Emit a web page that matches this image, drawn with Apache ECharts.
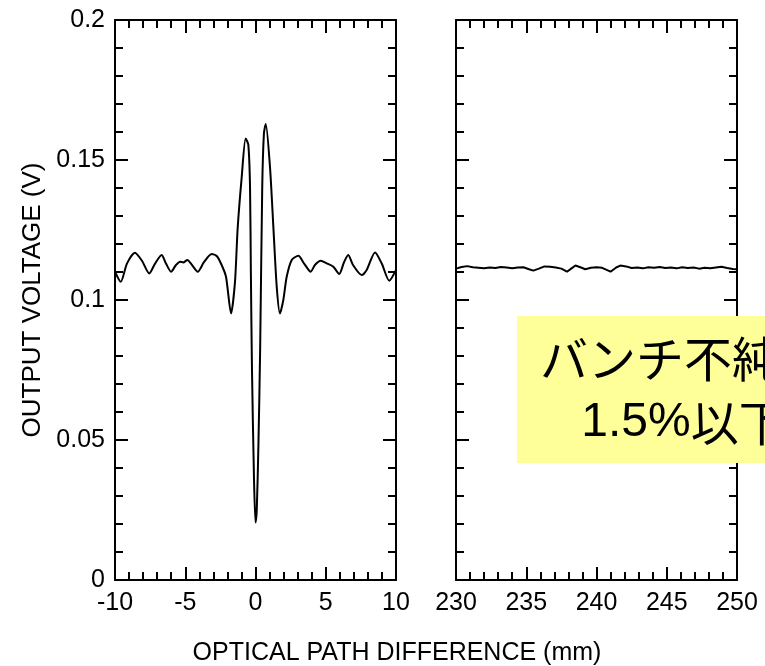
<!DOCTYPE html>
<html>
<head>
<meta charset="utf-8">
<title>OUTPUT VOLTAGE vs OPTICAL PATH DIFFERENCE</title>
<script src="https://cdn.jsdelivr.net/npm/echarts@6/dist/echarts.min.js"></script>
<style>
    html, body { margin: 0; padding: 0; background: #fff; }
    #chart-box { width: 765px; height: 666px; }
</style>
</head>
<body>
<div id="chart-box"></div>
<script>
// 左側：ゼロ点付近のインターフェログラム (mm, V)
let leftX = [-10.0, -9.59, -9.15, -8.58, -8.08, -7.56, -7.15, -6.68, -6.37, -6.01,
    -5.66, -5.37, -5.14, -4.85, -4.52, -4.11, -3.67, -3.12, -2.76, -2.41,
    -2.10, -1.74, -1.46, -1.27, -0.98, -0.70, -0.51, -0.39, -0.33, -0.25,
    -0.11, 0.0, 0.09, 0.21, 0.33, 0.48, 0.60, 0.73, 1.03, 1.27,
    1.51, 1.74, 1.98, 2.22, 2.58, 3.05, 3.45, 3.93, 4.23, 4.64,
    5.07, 5.54, 5.96, 6.30, 6.60, 6.94, 7.56, 7.91, 8.51, 8.98,
    9.52, 10.0]
let leftY = [0.1101, 0.1065, 0.1130, 0.1169, 0.1140, 0.1095, 0.1130, 0.1161, 0.1130, 0.1101,
    0.1125, 0.1137, 0.1134, 0.1143, 0.1125, 0.1101, 0.1135, 0.1164, 0.1157, 0.1125,
    0.1083, 0.0952, 0.1065, 0.1256, 0.1440, 0.1577, 0.1554, 0.1405, 0.1100, 0.0750,
    0.0369, 0.0205, 0.0250, 0.0488, 0.0821, 0.1405, 0.1595, 0.1629, 0.1476, 0.1262,
    0.1048, 0.0952, 0.1000, 0.1083, 0.1143, 0.1158, 0.1131, 0.1101, 0.1125, 0.1140,
    0.1131, 0.1119, 0.1093, 0.1135, 0.1161, 0.1125, 0.1089, 0.1107, 0.1170, 0.1131,
    0.1069, 0.1107]

// 右側：遠方 (230-250 mm) のほぼ平坦な信号
let rightX = [230.0, 230.4, 230.8, 231.2, 231.6, 232.0, 232.4, 232.8, 233.2, 233.6,
    234.0, 234.4, 234.8, 235.2, 235.5, 235.9, 236.3, 236.7, 237.1, 237.5,
    237.9, 238.2, 238.5, 238.9, 239.2, 239.6, 240.0, 240.4, 240.8, 241.0,
    241.4, 241.7, 242.1, 242.5, 242.9, 243.3, 243.7, 244.1, 244.5, 244.9,
    245.3, 245.7, 246.1, 246.5, 246.9, 247.3, 247.7, 248.1, 248.5, 248.9,
    249.3, 249.7, 250.0]
let rightY = [0.1112, 0.1118, 0.1121, 0.1117, 0.1115, 0.1113, 0.1116, 0.1114, 0.1118, 0.1116,
    0.1113, 0.1116, 0.1117, 0.1110, 0.1105, 0.1112, 0.1120, 0.1119, 0.1116, 0.1112,
    0.1101, 0.1112, 0.1123, 0.1116, 0.1110, 0.1115, 0.1117, 0.1115, 0.1106, 0.1101,
    0.1116, 0.1123, 0.1120, 0.1114, 0.1116, 0.1113, 0.1117, 0.1115, 0.1118, 0.1114,
    0.1116, 0.1113, 0.1117, 0.1114, 0.1116, 0.1112, 0.1115, 0.1113, 0.1116, 0.1119,
    0.1114, 0.1111, 0.1110]

let yTitle = "OUTPUT VOLTAGE (V)"
let xTitle = "OPTICAL PATH DIFFERENCE (mm)"
let noteLine1 = "バンチ不純度"
let notePercent = "1.5%"
let noteTail = "以下"

function pairs(xs, ys) {
    let out = []
    for (let i = 0; i < xs.length; i++) {
        out.push([xs[i], ys[i]])
    }
    return out
}

let fontName = "Liberation Sans, Arial, Helvetica, sans-serif"
let cjkFont = "'Noto Sans CJK JP', sans-serif"

// 軸の共通設定（内向きの目盛り、4辺すべて）
function makeXAxis(gridIndex, min, max, position, showLabel) {
    return {
        type: "value",
        gridIndex: gridIndex,
        position: position,
        min: min,
        max: max,
        interval: 5,
        axisLine: { show: true, onZero: false, lineStyle: { color: "#000", width: 2 } },
        axisTick: { show: true, inside: true, length: 13, lineStyle: { color: "#000", width: 2 } },
        minorTick: { show: true, splitNumber: 5, length: 8, lineStyle: { color: "#000", width: 2 } },
        splitLine: { show: false },
        axisLabel: {
            show: showLabel,
            margin: 11,
            color: "#000",
            fontSize: 25,
            fontFamily: fontName,
            showMinLabel: true,
            showMaxLabel: true
        }
    }
}

function makeYAxis(gridIndex, position, showLabel) {
    return {
        type: "value",
        gridIndex: gridIndex,
        position: position,
        min: 0,
        max: 0.2,
        interval: 0.05,
        axisLine: { show: true, onZero: false, lineStyle: { color: "#000", width: 2 } },
        axisTick: { show: true, inside: true, length: 13, lineStyle: { color: "#000", width: 2 } },
        minorTick: { show: true, splitNumber: 5, length: 8, lineStyle: { color: "#000", width: 2 } },
        splitLine: { show: false },
        axisLabel: {
            show: showLabel,
            margin: 10,
            color: "#000",
            fontSize: 25,
            fontFamily: fontName,
            formatter: function (v) {
                return String(Math.round(v * 100) / 100)
            }
        }
    }
}

let chartBox = document.getElementById("chart-box")
let chart = echarts.init(chartBox)

let yLeft = makeYAxis(0, "left", true)
yLeft.name = yTitle
yLeft.nameLocation = "middle"
yLeft.nameGap = 69
yLeft.nameTextStyle = { color: "#000", fontSize: 26, fontFamily: fontName }

let option = {
    backgroundColor: "#fff",
    animation: false,
    grid: [
        { left: 115, top: 20, width: 281, height: 560 },
        { left: 456, top: 20, width: 281, height: 560 }
    ],
    xAxis: [
        makeXAxis(0, -10, 10, "bottom", true),
        makeXAxis(0, -10, 10, "top", false),
        makeXAxis(1, 230, 250, "bottom", true),
        makeXAxis(1, 230, 250, "top", false)
    ],
    yAxis: [
        yLeft,
        makeYAxis(0, "right", false),
        makeYAxis(1, "left", false),
        makeYAxis(1, "right", false)
    ],
    series: [
        {
            type: "line",
            xAxisIndex: 0,
            yAxisIndex: 0,
            data: pairs(leftX, leftY),
            showSymbol: false,
            smooth: 0.25,
            lineStyle: { color: "#000", width: 2 }
        },
        {
            type: "line",
            xAxisIndex: 2,
            yAxisIndex: 2,
            data: pairs(rightX, rightY),
            showSymbol: false,
            lineStyle: { color: "#000", width: 2 }
        }
    ],
    graphic: [
        {
            type: "text",
            x: 397,
            y: 653,
            style: {
                text: xTitle,
                fill: "#000",
                font: "25px " + fontName,
                textAlign: "center",
                textVerticalAlign: "middle"
            }
        },
        {
            type: "rect",
            z: 100,
            shape: { x: 517, y: 316, width: 330, height: 147 },
            style: { fill: "#ffff99" }
        },
        {
            type: "text",
            z: 101,
            x: 684,
            y: 359,
            style: {
                text: noteLine1,
                fill: "#000",
                font: "48px " + cjkFont,
                textAlign: "center",
                textVerticalAlign: "middle"
            }
        },
        {
            type: "text",
            z: 101,
            x: 684,
            y: 423,
            style: {
                text: "{a|" + notePercent + "}{b|" + noteTail + "}",
                fill: "#000",
                textAlign: "center",
                textVerticalAlign: "middle",
                rich: {
                    a: { fontSize: 48, fontFamily: fontName, fill: "#000" },
                    b: { fontSize: 48, fontFamily: cjkFont, fill: "#000" }
                }
            }
        }
    ]
}

chart.setOption(option)
chart.resize()
</script>
</body>
</html>
